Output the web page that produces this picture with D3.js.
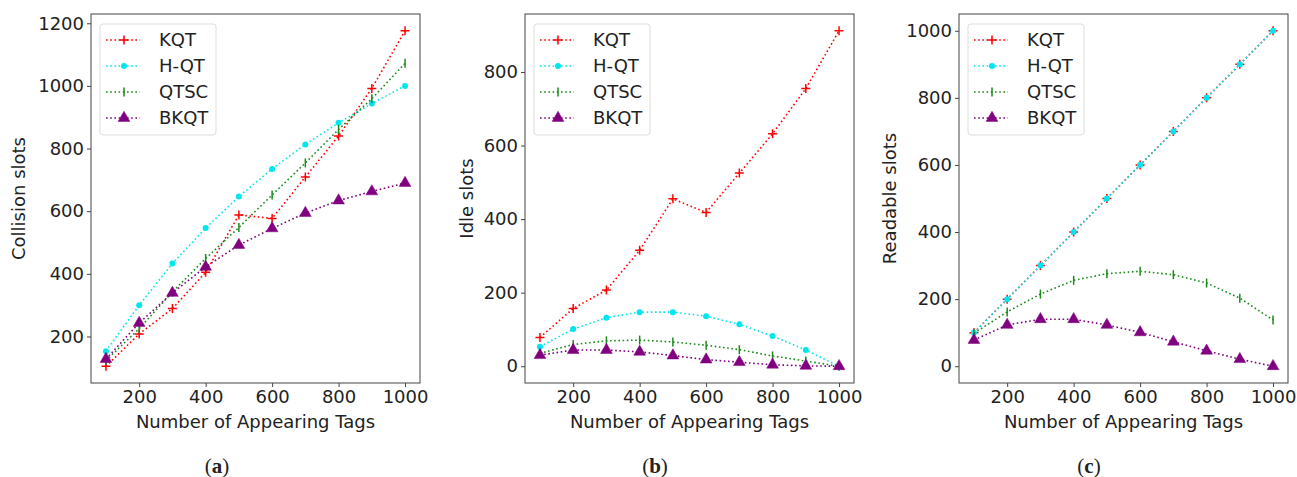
<!DOCTYPE html>
<html>
<head>
<meta charset="utf-8">
<script src="https://cdn.jsdelivr.net/npm/d3@7"></script>
<style>
  body { margin: 0; background: #fff; }
  text { font-family: "DejaVu Sans", sans-serif; fill: #222; }
</style>
</head>
<body>
<svg id="chart" width="1297" height="477"></svg>
<script>
// x values shared by all three panels
var tags = [100, 200, 300, 400, 500, 600, 700, 800, 900, 1000];
var xTicks = [200, 400, 600, 800, 1000];
var seriesNames = ["KQT", "H-QT", "QTSC", "BKQT"];

// (a) collision slots
var collisionKQT  = [105, 208, 289, 405, 588, 577, 709, 840, 992, 1176];
var collisionHQT  = [153, 300, 433, 546, 647, 735, 813, 882, 944, 1000];
var collisionQTSC = [123, 225, 342, 449, 548, 652, 754, 861, 959, 1072];
var collisionBKQT = [128, 243, 339, 422, 492, 545, 594, 634, 663, 690];
var collisionTicks = [200, 400, 600, 800, 1000, 1200];

// (b) idle slots
var idleKQT  = [78, 157, 207, 315, 455, 418, 525, 632, 755, 912];
var idleHQT  = [53, 101, 132, 147, 147, 136, 114, 82, 44, 0];
var idleQTSC = [35, 59, 69, 71, 66, 57, 45, 28, 14, 0];
var idleBKQT = [30, 44, 44, 39, 29, 18, 11, 4, 1, 0];
var idleTicks = [0, 200, 400, 600, 800];

// (c) readable slots
var readKQT  = [100, 200, 300, 400, 500, 600, 700, 800, 900, 1000];
var readHQT  = [100, 200, 300, 400, 500, 600, 700, 800, 900, 1000];
var readQTSC = [98, 162, 215, 256, 276, 283, 273, 248, 203, 138];
var readBKQT = [78, 123, 140, 140, 123, 101, 73, 46, 21, 0];
var readTicks = [0, 200, 400, 600, 800, 1000];

var colors = ["#ff0000", "#00e5ee", "#1a8a1a", "#800080"];
var markers = ["plus", "dot", "vline", "tri"];

var panels = [
  { left: 91, ylabel: "Collision slots", ylabelX: 19, caption: "a", capX: 217,
    series: [collisionKQT, collisionHQT, collisionQTSC, collisionBKQT], ticks: collisionTicks },
  { left: 525, ylabel: "Idle slots", ylabelX: 467, caption: "b", capX: 655,
    series: [idleKQT, idleHQT, idleQTSC, idleBKQT], ticks: idleTicks },
  { left: 959, ylabel: "Readable slots", ylabelX: 890, caption: "c", capX: 1089,
    series: [readKQT, readHQT, readQTSC, readBKQT], ticks: readTicks }
];

var plotW = 329, plotTop = 14, plotH = 369;
var svg = d3.select("#chart");

function drawMarker(g, type, color) {
  if (type === "plus") {
    g.append("path").attr("d", "M-4.5,0H4.5M0,-4.5V4.5")
      .attr("stroke", color).attr("stroke-width", 1.5).attr("fill", "none");
  } else if (type === "dot") {
    g.append("circle").attr("r", 3).attr("fill", color);
  } else if (type === "vline") {
    g.append("path").attr("d", "M0,-4.5V4.5")
      .attr("stroke", color).attr("stroke-width", 1.5);
  } else {
    g.append("path").attr("d", d3.symbol(d3.symbolTriangle, 60)())
      .attr("fill", color).attr("stroke", color).attr("stroke-width", 0.5);
  }
}

panels.forEach(function(p) {
  var all = d3.merge(p.series);
  var ymin = d3.min(all), ymax = d3.max(all), pad = (ymax - ymin) * 0.05;

  var x = d3.scaleLinear().domain([55, 1045]).range([0, plotW]);
  var y = d3.scaleLinear().domain([ymin - pad, ymax + pad]).range([plotH, 0]);

  var g = svg.append("g").attr("transform", `translate(${p.left}, ${plotTop})`);

  // axes
  var xAxis = g.append("g").attr("transform", `translate(0, ${plotH})`)
    .call(d3.axisBottom(x).tickValues(xTicks).tickSize(4).tickPadding(3).tickFormat(d3.format("d")));
  var yAxis = g.append("g")
    .call(d3.axisLeft(y).tickValues(p.ticks).tickSize(4).tickPadding(3).tickFormat(d3.format("d")));
  [xAxis, yAxis].forEach(function(a) {
    a.select(".domain").remove();
    a.selectAll("line").attr("stroke", "#444");
    a.selectAll("text").style("font-size", "18px").attr("fill", "#222");
  });

  g.append("rect").attr("width", plotW).attr("height", plotH)
    .attr("fill", "none").attr("stroke", "#444").attr("stroke-width", 1);

  // lines with markers
  var line = d3.line().x(function(d, i) { return x(tags[i]); }).y(function(d) { return y(d); });
  p.series.forEach(function(vals, s) {
    g.append("path").datum(vals).attr("d", line)
      .attr("fill", "none").attr("stroke", colors[s])
      .attr("stroke-width", 1.6).attr("stroke-dasharray", "1.6,2.6");
    vals.forEach(function(v, i) {
      var m = g.append("g").attr("transform", `translate(${x(tags[i])}, ${y(v)})`);
      drawMarker(m, markers[s], colors[s]);
    });
  });

  // legend
  var lg = g.append("g").attr("transform", "translate(9, 10)");
  lg.append("rect").attr("width", 116).attr("height", 111).attr("rx", 3)
    .attr("fill", "#fff").attr("fill-opacity", 0.8).attr("stroke", "#ddd");
  seriesNames.forEach(function(name, s) {
    var ly = 16 + s * 26;
    lg.append("line").attr("x1", 6).attr("x2", 40).attr("y1", ly).attr("y2", ly)
      .attr("stroke", colors[s]).attr("stroke-width", 1.6).attr("stroke-dasharray", "1.6,2.6");
    drawMarker(lg.append("g").attr("transform", `translate(24, ${ly})`), markers[s], colors[s]);
    lg.append("text").attr("x", 59).attr("y", ly).attr("dy", "0.35em")
      .style("font-size", "18px").text(name);
  });

  // axis labels
  g.append("text").attr("x", plotW / 2).attr("y", plotH + 45)
    .attr("text-anchor", "middle").style("font-size", "18px")
    .text("Number of Appearing Tags");
  svg.append("text")
    .attr("transform", `translate(${p.ylabelX}, ${plotTop + plotH / 2}) rotate(-90)`)
    .attr("text-anchor", "middle").attr("dy", "0.35em").style("font-size", "18px")
    .text(p.ylabel);

  // caption
  var cap = svg.append("text").attr("x", p.capX).attr("y", 473)
    .attr("text-anchor", "middle").attr("fill", "#000")
    .style("font-family", "'Liberation Serif', 'DejaVu Serif', serif").style("font-size", "21px");
  cap.append("tspan").text("(");
  cap.append("tspan").style("font-weight", "bold").text(p.caption);
  cap.append("tspan").text(")");
});
</script>
</body>
</html>
